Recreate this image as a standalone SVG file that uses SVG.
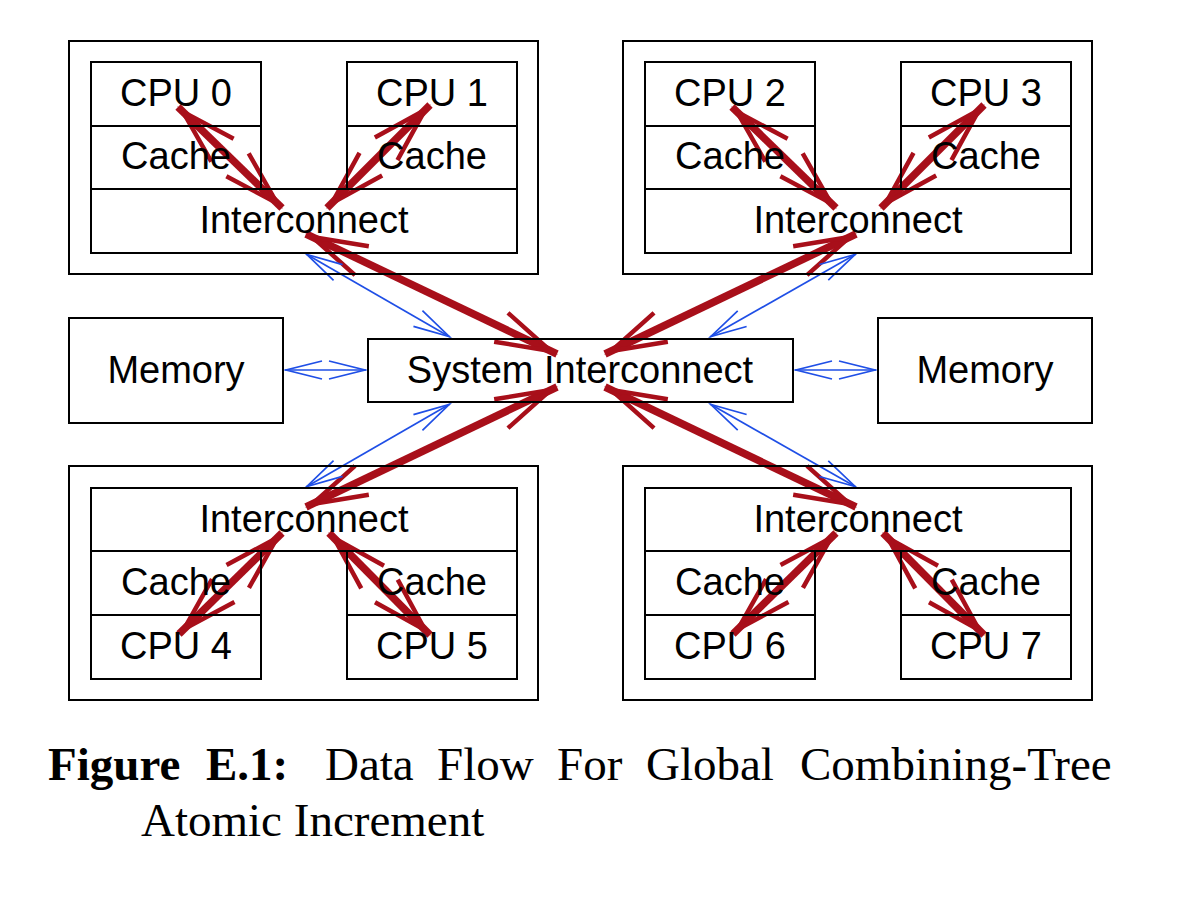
<svg xmlns="http://www.w3.org/2000/svg" width="1180" height="908" viewBox="0 0 1180 908">
<style>
.box{fill:none;stroke:#000;stroke-width:2}
.lbl{font-family:"Liberation Sans",Arial,sans-serif;font-size:38px;text-anchor:middle;fill:#000}
.red{stroke:#a80f1a;stroke-width:7.5;fill:none;marker-start:url(#rh);marker-end:url(#rh)}
.blue{stroke:#1f4fe6;stroke-width:1.7;fill:none;marker-start:url(#bh);marker-end:url(#bh)}
.cap{font-family:"Liberation Serif","Times New Roman",serif;font-size:47px;fill:#000}
</style>
<defs>
<marker id="rh" markerUnits="userSpaceOnUse" orient="auto-start-reverse" overflow="visible" markerWidth="1" markerHeight="1" refX="0" refY="0">
<path d="M-62,-16 L-7,0 L-62,16" fill="none" stroke="#a80f1a" stroke-width="4.5" stroke-miterlimit="10"/>
</marker>
<marker id="bh" markerUnits="userSpaceOnUse" orient="auto-start-reverse" overflow="visible" markerWidth="1" markerHeight="1" refX="0" refY="0">
<path d="M-37,-9 L-1,0 L-37,9" fill="none" stroke="#1f4fe6" stroke-width="1.7" stroke-miterlimit="10"/>
</marker>
</defs>
<rect width="1180" height="908" fill="#fff"/>
<g id="connectors">
<line class="red" x1="178" y1="107" x2="282" y2="208"/>
<line class="red" x1="430" y1="105" x2="327" y2="208"/>
<line class="red" x1="732" y1="107" x2="836" y2="208"/>
<line class="red" x1="984" y1="105" x2="881" y2="208"/>
<line class="red" x1="306" y1="234" x2="557" y2="354"/>
<line class="red" x1="856" y1="234" x2="605" y2="354"/>
<line class="red" x1="306" y1="507" x2="557" y2="387"/>
<line class="red" x1="856" y1="507" x2="605" y2="387"/>
<line class="red" x1="179" y1="634" x2="282" y2="533"/>
<line class="red" x1="430" y1="635" x2="329" y2="533"/>
<line class="red" x1="733" y1="634" x2="836" y2="533"/>
<line class="red" x1="984" y1="635" x2="883" y2="533"/>
<line class="blue" x1="306" y1="254" x2="450" y2="337"/>
<line class="blue" x1="856" y1="254" x2="710" y2="337"/>
<line class="blue" x1="306" y1="487" x2="450" y2="404"/>
<line class="blue" x1="856" y1="487" x2="710" y2="404"/>
<line class="blue" x1="285" y1="370" x2="366" y2="370"/>
<line class="blue" x1="795" y1="370" x2="876" y2="370"/>
</g>
<g id="node-group-tl"><rect class="box" x="69" y="41" width="469" height="233"/></g>
<g id="cpu0"><rect class="box" x="91" y="62" width="170" height="64"/><text class="lbl" x="176" y="106">CPU 0</text></g>
<g id="cache0"><rect class="box" x="91" y="126" width="170" height="63"/><text class="lbl" x="176" y="169">Cache</text></g>
<g id="cpu1"><rect class="box" x="347" y="62" width="170" height="64"/><text class="lbl" x="432" y="106">CPU 1</text></g>
<g id="cache1"><rect class="box" x="347" y="126" width="170" height="63"/><text class="lbl" x="432" y="169">Cache</text></g>
<g id="ic-tl"><rect class="box" x="91" y="189" width="426" height="64"/><text class="lbl" x="304" y="233">Interconnect</text></g>
<g id="node-group-tr"><rect class="box" x="623" y="41" width="469" height="233"/></g>
<g id="cpu2"><rect class="box" x="645" y="62" width="170" height="64"/><text class="lbl" x="730" y="106">CPU 2</text></g>
<g id="cache2"><rect class="box" x="645" y="126" width="170" height="63"/><text class="lbl" x="730" y="169">Cache</text></g>
<g id="cpu3"><rect class="box" x="901" y="62" width="170" height="64"/><text class="lbl" x="986" y="106">CPU 3</text></g>
<g id="cache3"><rect class="box" x="901" y="126" width="170" height="63"/><text class="lbl" x="986" y="169">Cache</text></g>
<g id="ic-tr"><rect class="box" x="645" y="189" width="426" height="64"/><text class="lbl" x="858" y="233">Interconnect</text></g>
<g id="mem-left"><rect class="box" x="69" y="318" width="214" height="105"/><text class="lbl" x="176" y="383">Memory</text></g>
<g id="sys-ic"><rect class="box" x="368" y="339" width="425" height="63"/><text class="lbl" x="580" y="383">System Interconnect</text></g>
<g id="mem-right"><rect class="box" x="878" y="318" width="214" height="105"/><text class="lbl" x="985" y="383">Memory</text></g>
<g id="node-group-bl"><rect class="box" x="69" y="466" width="469" height="234"/></g>
<g id="ic-bl"><rect class="box" x="91" y="488" width="426" height="63"/><text class="lbl" x="304" y="532">Interconnect</text></g>
<g id="cache4"><rect class="box" x="91" y="551" width="170" height="64"/><text class="lbl" x="176" y="595">Cache</text></g>
<g id="cpu4"><rect class="box" x="91" y="615" width="170" height="64"/><text class="lbl" x="176" y="659">CPU 4</text></g>
<g id="cache5"><rect class="box" x="347" y="551" width="170" height="64"/><text class="lbl" x="432" y="595">Cache</text></g>
<g id="cpu5"><rect class="box" x="347" y="615" width="170" height="64"/><text class="lbl" x="432" y="659">CPU 5</text></g>
<g id="node-group-br"><rect class="box" x="623" y="466" width="469" height="234"/></g>
<g id="ic-br"><rect class="box" x="645" y="488" width="426" height="63"/><text class="lbl" x="858" y="532">Interconnect</text></g>
<g id="cache6"><rect class="box" x="645" y="551" width="170" height="64"/><text class="lbl" x="730" y="595">Cache</text></g>
<g id="cpu6"><rect class="box" x="645" y="615" width="170" height="64"/><text class="lbl" x="730" y="659">CPU 6</text></g>
<g id="cache7"><rect class="box" x="901" y="551" width="170" height="64"/><text class="lbl" x="986" y="595">Cache</text></g>
<g id="cpu7"><rect class="box" x="901" y="615" width="170" height="64"/><text class="lbl" x="986" y="659">CPU 7</text></g>
<g id="caption">
<text class="cap" y="780"><tspan x="48" font-weight="bold">Figure</tspan><tspan x="206" font-weight="bold">E.1:</tspan><tspan x="325">Data</tspan><tspan x="437">Flow</tspan><tspan x="557">For</tspan><tspan x="646">Global</tspan><tspan x="800">Combining-Tree</tspan></text>
<text class="cap" x="141" y="836">Atomic Increment</text>
</g>
</svg>
